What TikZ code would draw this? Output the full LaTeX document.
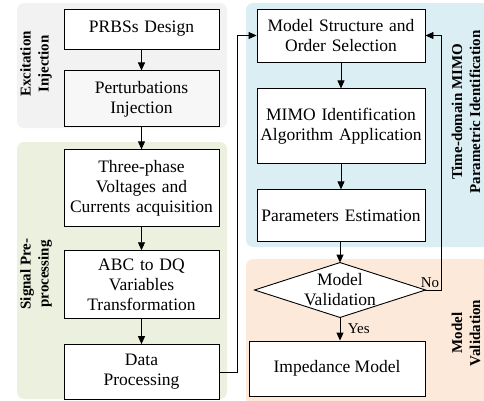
\documentclass[tikz,border=0pt]{standalone}
\usepackage{fontspec}
\setmainfont{Liberation Serif}
\usepackage{tikz}
\usetikzlibrary{arrows.meta, positioning}
\definecolor{exbg}{HTML}{F2F2F2}
\definecolor{prebg}{HTML}{EBF1DE}
\definecolor{idbg}{HTML}{DBEEF4}
\definecolor{valbg}{HTML}{FDE9D9}
\tikzset{
		block/.style={draw, line width=0.9pt, fill=white, align=center, inner sep=2pt,
			font=\rmfamily\fontsize{17.5}{20}\selectfont},
		leftblock/.style={block, minimum width=155pt, text width=150pt},
		rightblock/.style={block, minimum width=168pt, text width=164pt},
		side label/.style={rotate=90, align=center, font=\rmfamily\fontsize{15}{18}\selectfont\bfseries},
		small label/.style={font=\rmfamily\fontsize{15}{18}\selectfont},
		region/.style={rounded corners=7pt}
	}

\begin{document}
\begin{tikzpicture}[x=1pt, y=-1pt, >={Triangle[length=8pt,width=7pt]}, line width=0.9pt]
				\useasboundingbox (0,0) rectangle (484,400);
				% backgrounds
				\fill[exbg, region]  (17,3)   rectangle (227,128);
				\fill[prebg, region] (17,142) rectangle (227,399);
				\fill[idbg, region]  (246,3)  rectangle (490,247);
				\fill[valbg, region] (246,259) rectangle (490,405);

				% left column
				\node[leftblock, minimum height=40pt] (prbs)    at (141.5,29)  {PRBSs Design};
				\node[leftblock, minimum height=56pt, fill=black!3] (perturb) [below=21pt of prbs]   {Perturbations\\Injection};
				\node[leftblock, minimum height=77pt] (acq)     [below=22pt of perturb] {Three-phase\\Voltages and\\Currents acquisition};
				\node[leftblock, minimum height=68pt] (abcdq)   [below=23pt of acq]     {ABC to DQ\\Variables\\Transformation};
				\node[leftblock, minimum height=55pt] (data)    [below=25pt of abcdq]   {Data\\Processing};

				% right column
				\node[rightblock, minimum height=53pt] (struct) at (341,35.5)        {Model Structure and\\Order Selection};
				\node[rightblock, minimum height=75pt] (mimo)   [below=26pt of struct] {MIMO Identification\\Algorithm Application};
				\node[rightblock, minimum height=52pt] (param)  [below=25pt of mimo]   {Parameters Estimation};
				\node[minimum width=170pt, minimum height=54pt, inner sep=0pt] (valid) at (340,290) {};
				\draw[fill=white] (valid.west) -- (valid.north) -- (valid.east) -- (valid.south) -- cycle;
				\node[align=center, font=\rmfamily\fontsize{17.5}{20}\selectfont] (validtext) at (valid.center) {Model\\Validation};
				\node[block, minimum width=176pt, minimum height=55pt] (imped) at (337,368.5) {Impedance Model};

				% side labels
				\node[side label] (exlab)  at (36,64)   {Excitation\\Injection};
				\node[side label] (prelab) at (36,274)  {Signal Pre-\\processing};
				\node[side label] (idlab)  at (466,112) {Time-domain MIMO\\Parametric Identification};
				\node[side label] (vallab) at (466,333) {Model\\Validation};

				\coordinate (jmp) at (237,35.5);
				\coordinate (back) at (441,35.5);

				\draw[->] (prbs) -- (perturb);
				\draw[->] (perturb) -- (acq);
				\draw[->] (acq) -- (abcdq);
				\draw[->] (abcdq) -- (data);
				\draw[->] (data.east) -| (jmp) -- (struct.west);
				\draw[->] (struct) -- (mimo);
				\draw[->] (mimo) -- (param);
				\draw[->] (param.south -| valid.north) -- (valid.north);
				\draw[->] (valid.south) -- node[small label, right, xshift=4pt] (yes) {Yes} (valid.south |- imped.north);
				\draw[->] (valid.east) -| (back) -- (struct.east);
				\node[small label, above left, xshift=2pt, yshift=-1pt] (no) at (back |- valid.east) {No};
			\end{tikzpicture}
\end{document}
